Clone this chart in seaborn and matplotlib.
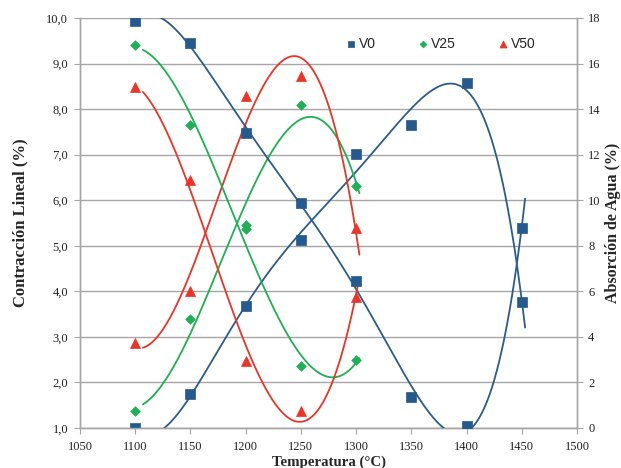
import numpy as np
import pandas as pd
import seaborn as sns
import matplotlib
matplotlib.use("Agg")
from matplotlib import pyplot as plt
from matplotlib.ticker import FuncFormatter

# temperatures (°C)
temp_v0 = [1100, 1150, 1200, 1250, 1300, 1350, 1400, 1450]
temp_v = [1100, 1150, 1200, 1250, 1300]

# contraccion lineal (%)  -> left axis
contr_v0 = [1.00, 1.75, 3.67, 5.12, 7.01, 7.66, 8.57, 3.77]
contr_v25 = [1.37, 3.39, 5.46, 8.09, 6.31]
contr_v50 = [2.86, 4.00, 8.29, 8.72, 5.38]

# absorcion de agua (%)  -> right axis
abs_v0 = [17.86, 16.92, 12.93, 9.86, 6.45, 1.38, 0.07, 8.80]
abs_v25 = [16.83, 13.30, 8.74, 2.74, 2.98]
abs_v50 = [14.95, 10.90, 2.92, 0.75, 5.76]

series_names = ["V0", "V25", "V50"]
colors = {"V0": "#255a8e", "V25": "#1db156", "V50": "#ee3326"}
line_colors = {"V0": "#2b5c8c", "V25": "#1ab34f", "V50": "#ee3326"}
markers = {"V0": "s", "V25": "D", "V50": "^"}
msize = {"V0": 48, "V25": 24, "V50": 52}
fit_deg = {"V0": 5, "V25": 3, "V50": 3}

SERIF = "Liberation Serif"

sns.set_style("white")
plt.rcParams["font.family"] = [SERIF, "DejaVu Serif"]

fig = plt.figure(figsize=(6.21, 4.68), dpi=100)
ax = fig.add_axes([80/621, 1-428/468, 497/621, 410/468])
ax2 = ax.twinx()

data = {
    "V0": (temp_v0, contr_v0, abs_v0),
    "V25": (temp_v, contr_v25, abs_v25),
    "V50": (temp_v, contr_v50, abs_v50),
}

for name in series_names:
    t, c, a = data[name]
    t = np.array(t, dtype=float)
    # trend curves (polynomial fit of the measured points)
    tt = np.linspace(t.min() + 7, t.max() + 3, 300)
    pc = np.polyval(np.polyfit(t, c, fit_deg[name]), tt)
    pa = np.polyval(np.polyfit(t, a, fit_deg[name]), tt)
    sns.lineplot(x=tt, y=pc, ax=ax, color=line_colors[name], lw=1.3, sort=False, zorder=3)
    sns.lineplot(x=tt, y=pa, ax=ax2, color=line_colors[name], lw=1.3, sort=False, zorder=3)
    sns.scatterplot(x=t, y=c, ax=ax, color=colors[name], marker=markers[name],
                    s=msize[name], edgecolor=colors[name], linewidth=0.5, zorder=4, label=name)
    sns.scatterplot(x=t, y=a, ax=ax2, color=colors[name], marker=markers[name],
                    s=msize[name], edgecolor=colors[name], linewidth=0.5, zorder=4)

ax.set_xlim(1050, 1500)
ax.set_xticks(np.arange(1050, 1501, 50))
ax.set_ylim(1, 10)
ax.set_yticks(np.arange(1, 10.01, 1))
ax.yaxis.set_major_formatter(FuncFormatter(lambda v, p: f"{v:.1f}".replace(".", ",")))
ax2.set_ylim(0, 18)
ax2.set_yticks(np.arange(0, 18.1, 2))

ax.grid(axis="y", color="#a6a6a6", lw=1.0)
ax.grid(axis="x", visible=False)
ax2.grid(False)
ax.set_axisbelow(True)

for a_ in (ax, ax2):
    a_.spines["top"].set_visible(False)
    for side in ["left", "right", "bottom"]:
        a_.spines[side].set_color("#a6a6a6")
        a_.spines[side].set_linewidth(1.0)
    a_.tick_params(axis="both", which="major", labelsize=9, length=4,
                   color="#a6a6a6", direction="out", pad=3, labelcolor="#222222")
    for lab in a_.get_xticklabels() + a_.get_yticklabels():
        lab.set_family(SERIF)
ax.tick_params(axis="y", left=True, pad=4.5)
ax2.tick_params(axis="y", right=True, pad=4)
ax.tick_params(axis="x", bottom=True, pad=5)

ax.set_xlabel("Temperatura (°C)", fontsize=10.7, fontweight="bold", family=SERIF, labelpad=2.5)
ax.set_ylabel("Contracción Lineal (%)", fontsize=12, fontweight="bold", family=SERIF, labelpad=13)
ax2.set_ylabel("Absorción de Agua (%)", fontsize=11.5, fontweight="bold", family=SERIF, labelpad=3)

handles, labels = ax.get_legend_handles_labels()
ax.get_legend().remove()
leg = ax2.legend(handles, labels, loc="center", bbox_to_anchor=(0.724, 0.937), ncol=3,
                 frameon=False, prop={"family": "Liberation Sans", "size": 10},
                 handletextpad=0.1, columnspacing=2.85, handlelength=1.0,
                 markerscale=0.7)

fig.savefig("out.png", dpi=100)
